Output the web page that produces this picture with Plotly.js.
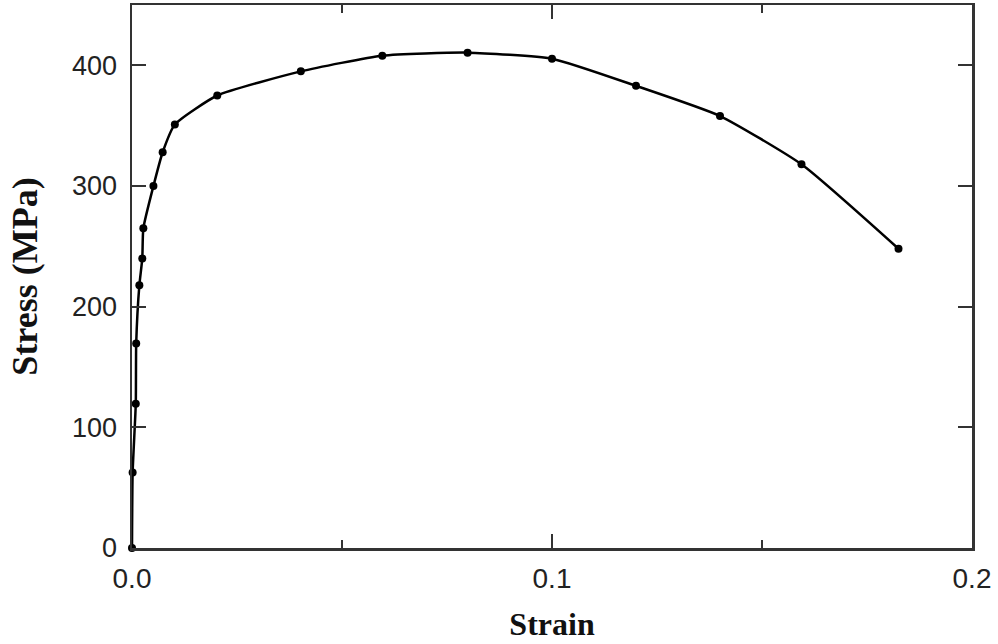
<!DOCTYPE html>
<html>
<head>
<meta charset="utf-8">
<script src="https://cdn.plot.ly/plotly-3.0.1.min.js"></script>
<style>html,body{margin:0;padding:0;background:#fff;}#chart{width:998px;height:644px;}</style>
</head>
<body>
<div id="chart"></div>
<script>
var strain = [0, 0.00015, 0.0009, 0.001, 0.00175, 0.00245, 0.0027, 0.0051, 0.0073, 0.0102, 0.0203, 0.0402, 0.0596, 0.0799, 0.1, 0.12, 0.14, 0.1594, 0.1825];
var stress = [0, 62.5, 119.5, 169.5, 217.7, 240, 265, 300, 328, 351, 375, 395, 408, 410.5, 405.5, 383, 358, 318, 248];
var xTickVals = [0, 0.1, 0.2];
var xTickText = ["0.0", "0.1", "0.2"];
var yTickVals = [0, 100, 200, 300, 400];

var trace = {
  x: strain, y: stress, type: 'scatter', mode: 'lines+markers',
  line: {color: '#000', width: 2.5, shape: 'spline', smoothing: 0.5},
  marker: {color: '#000', size: 8},
  showlegend: false, cliponaxis: false
};

var axisCommon = {
  showgrid: false, zeroline: false, showline: true, linecolor: '#333', linewidth: 2.5,
  mirror: 'ticks', ticks: 'inside', tickcolor: '#333', tickwidth: 2, ticklen: 14,
  tickfont: {family: 'Liberation Sans, Arial, sans-serif', size: 27, color: '#222'}
};

var layout = {
  width: 998, height: 644,
  margin: {l: 132, r: 26, t: 5, b: 96},
  paper_bgcolor: '#fff', plot_bgcolor: '#fff',
  xaxis: Object.assign({}, axisCommon, {
    range: [0, 0.2], tickmode: 'array', tickvals: xTickVals, ticktext: xTickText,
    tickfont: {family: 'Liberation Sans, Arial, sans-serif', size: 28, color: '#222'},
    minor: {dtick: 0.05, ticks: 'inside', ticklen: 8, tickwidth: 2, tickcolor: '#333', showgrid: false},
    ticklabelstandoff: 4,
    title: {text: 'Strain', font: {family: 'Liberation Serif, Times New Roman, serif', size: 32, color: '#111', weight: 'bold'}, standoff: 20}
  }),
  yaxis: Object.assign({}, axisCommon, {
    range: [0, 450], tickmode: 'array', tickvals: yTickVals,
    ticklabelstandoff: 7,
    title: {text: 'Stress (MPa)', font: {family: 'Liberation Serif, Times New Roman, serif', size: 36, color: '#111', weight: 'bold'}, standoff: 24}
  })
};

Plotly.newPlot('chart', [trace], layout, {displayModeBar: false, staticPlot: true});
</script>
</body>
</html>
